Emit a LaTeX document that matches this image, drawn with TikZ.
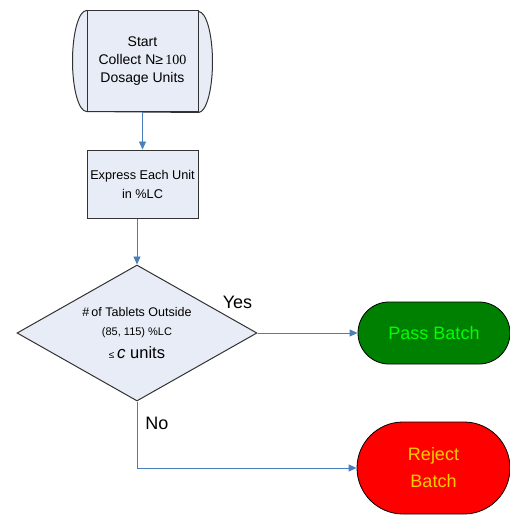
\documentclass[tikz,border=0pt]{standalone}
\usepackage{fontspec}
\setmainfont{Liberation Sans}
\newfontfamily\numserif{Liberation Serif}
\usetikzlibrary{shapes.geometric,shapes.misc,arrows.meta,backgrounds}
\definecolor{boxfill}{RGB}{231,236,246}
\definecolor{boxline}{RGB}{50,50,50}
\definecolor{flowblue}{RGB}{74,126,187}
\definecolor{passfill}{RGB}{0,128,0}
\definecolor{passtext}{RGB}{0,255,0}
\definecolor{rejfill}{RGB}{255,0,0}
\definecolor{rejtext}{RGB}{255,204,0}
\tikzset{
  procbox/.style={rectangle, draw=boxline, fill=boxfill, line width=1pt,
    inner sep=0pt, align=center},
  decision/.style={diamond, draw=boxline, fill=boxfill, line width=1pt,
    inner sep=0pt, aspect=1.76, align=center},
  terminal/.style={rounded rectangle, draw=black, line width=0.8pt,
    inner sep=0pt, align=center},
  flow/.style={draw=flowblue, line width=0.9pt,
    -{Triangle[length=8pt,width=7pt]}},
  branchlabel/.style={font=\fontsize{18}{18}\selectfont, inner sep=0pt, anchor=base}
}
\begin{document}
\begin{tikzpicture}[x=1pt,y=-1pt]
\useasboundingbox (0,0) rectangle (510,516);

% start: storage-style block with bulging sides
\node[procbox, minimum width=111pt, minimum height=101pt,
      font=\fontsize{14}{18}\selectfont] (start) at (142.5,61.5)
  {Start\\Collect N≥\,{\numserif 100}\\Dosage Units};
\begin{scope}[on background layer]
  \path[draw=boxline, fill=boxfill, line width=1pt]
    (start.north west) arc[start angle=270, end angle=90, x radius=14, y radius=50.5]
    -- (start.south east) arc[start angle=90, end angle=-90, x radius=14, y radius=50.5]
    -- cycle;
\end{scope}

\node[procbox, minimum width=111pt, minimum height=68pt,
      font=\fontsize{12.7}{19}\selectfont] (express) at (142.5,184)
  {Express Each Unit\\in \%LC};

\node[decision, minimum width=240pt, minimum height=136pt,
      font=\fontsize{12.5}{19}\selectfont] (check) at (137,333)
  {\#\,of Tablets Outside\\
   {\fontsize{11}{19}\selectfont (85, 115) \%LC}\\[4pt]
   {\fontsize{16.5}{19}\selectfont {\fontsize{10}{10}\selectfont ≤}\,{\fontsize{17}{17}\selectfont\itshape c} units}};

\node[terminal, fill=passfill, text=passtext, minimum width=152pt, minimum height=62pt,
      font=\fontsize{18}{27}\selectfont] (pass) at (434,333) {Pass Batch};
\node[terminal, fill=rejfill, text=rejtext, minimum width=153pt, minimum height=92pt,
      font=\fontsize{18}{27}\selectfont] (reject) at (433.5,468) {Reject\\Batch};

% connectors
\draw[flow] (start.south) -- (express.north);
\draw[flow] (express.south -| check.north) -- (check.north);
\draw[flow] (check.east) -- (pass.west);
\draw[flow] (check.south) |- (reject.west);

\node[branchlabel] (yes) at (237.5,308) {Yes};
\node[branchlabel] (no) at (157,429) {No};
\end{tikzpicture}
\end{document}
